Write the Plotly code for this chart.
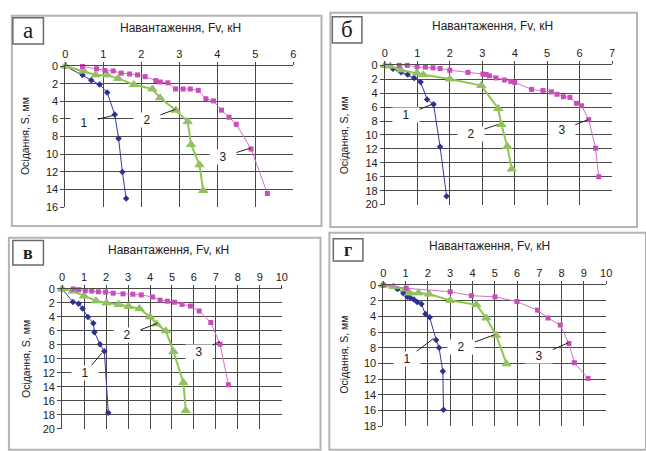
import plotly.graph_objects as go

W, H = 646, 451

# ---------------- data ----------------
# panel а
a_x1 = [0, 0.45, 0.68, 0.9, 1.1, 1.3, 1.4, 1.5, 1.6]
a_y1 = [0, 1.0, 1.6, 2.1, 3.0, 5.5, 8.2, 12.0, 15.0]
a_x2 = [0, 0.48, 0.8, 1.1, 1.39, 1.8, 2.29, 2.49, 2.91, 3.22, 3.31, 3.53, 3.63]
a_y2 = [0, 0.55, 1.0, 1.0, 1.4, 2.1, 2.6, 3.6, 5.0, 6.3, 8.9, 11.2, 14.1]
a_x3 = [0.45, 0.82, 1.04, 1.26, 1.47, 1.69, 1.9, 2.1, 2.38, 2.5, 2.7, 2.9, 3.1, 3.29, 3.5,
        3.7, 3.9, 4.11, 4.31, 4.5, 4.89, 5.32]
a_y3 = [0.05, 0.3, 0.5, 0.55, 0.8, 0.9, 1.0, 1.2, 1.65, 1.8, 1.9, 2.6, 2.6, 2.6, 2.75,
        3.7, 3.95, 5.0, 5.8, 6.6, 9.4, 14.45]

# panel б
b_x1 = [0, 0.25, 0.5, 0.7, 0.9, 1.1, 1.3, 1.5, 1.7, 1.9]
b_y1 = [0, 0.5, 1.0, 1.3, 1.8, 2.4, 4.9, 5.6, 11.7, 18.8]
b_x2 = [0, 0.16, 0.49, 0.99, 1.18, 2.0, 2.97, 3.49, 3.59, 3.77, 3.91]
b_y2 = [0, 0.1, 0.65, 1.1, 1.35, 1.95, 2.9, 6.2, 8.5, 11.65, 14.9]
b_x3 = [0.44, 0.69, 0.99, 1.25, 1.48, 1.7, 2.0, 2.56, 3.02, 3.12, 3.22, 3.42, 3.68, 3.88,
        4.0, 4.52, 4.87, 5.13, 5.3, 5.5, 5.7, 5.9, 6.06, 6.28, 6.49, 6.59]
b_y3 = [0, 0, 0.2, 0.25, 0.35, 0.45, 0.7, 1.0, 1.25, 1.3, 1.5, 1.8, 2.1, 2.3,
        2.45, 3.45, 3.6, 3.8, 4.15, 4.5, 4.6, 5.45, 5.8, 7.8, 11.9, 16.0]

# panel в
c_x1 = [0, 0.49, 0.75, 0.93, 1.17, 1.42, 1.47, 1.72, 1.92, 2.1]
c_y1 = [0, 1.86, 2.1, 2.8, 4.0, 4.9, 6.2, 7.9, 8.9, 17.7]
c_x2 = [0, 0.49, 1.0, 1.54, 2.02, 2.57, 3.02, 3.52, 4.0, 4.3, 4.72, 5.07, 5.52, 5.63]
c_y2 = [0, 0.3, 1.0, 1.7, 2.0, 2.2, 2.5, 2.8, 4.0, 5.0, 6.0, 8.95, 13.4, 17.4]
c_x3 = [0.5, 0.75, 1.05, 1.35, 1.65, 1.98, 2.32, 2.77, 3.22, 3.6, 4.12, 4.46, 4.79, 5.12,
        5.46, 5.84, 6.24, 6.77, 7.19, 7.57]
c_y3 = [0, 0.1, 0.25, 0.3, 0.4, 0.45, 0.6, 0.7, 0.75, 0.85, 1.15, 1.6, 1.75, 1.9,
        2.2, 2.45, 3.15, 4.8, 7.9, 13.7]

# panel г
d_x1 = [0, 0.63, 0.9, 1.08, 1.22, 1.37, 1.52, 1.71, 1.89, 2.08, 2.37, 2.5, 2.67, 2.7]
d_y1 = [0, 0.5, 1.03, 1.5, 1.65, 1.85, 2.15, 2.4, 3.7, 4.1, 7.0, 8.0, 11.0, 15.9]
d_x2 = [0, 0.46, 1.0, 1.17, 1.58, 2.05, 3.0, 4.17, 4.62, 5.06, 5.53]
d_y2 = [0, 0.2, 0.5, 1.0, 1.0, 1.15, 1.95, 2.5, 4.2, 6.4, 10.05]
d_x3 = [0, 1.03, 3.0, 3.95, 5.01, 6.0, 6.92, 7.39, 7.94, 8.33, 8.57, 9.19]
d_y3 = [0, 0.4, 0.85, 1.35, 1.5, 2.1, 3.2, 4.2, 5.1, 7.45, 9.9, 11.9]

panel_letters = ["а", "б", "в", "г"]
x_max = [6, 7, 10, 10]
y_max = [16, 20, 20, 18]
x_title = "Навантаження, Fv, кН"
y_title = "Осідання, S, мм"
curve_names = ["1", "2", "3"]

# label text position (x, y) and leader target (x, y) per panel
lab_text_x = [[0.5, 2.15, 4.15], [0.65, 2.65, 5.45], [1.05, 2.95, 6.25], [1.05, 3.5, 7.0]]
lab_text_y = [[6.4, 6.1, 10.3], [7.1, 9.8, 9.3], [12.0, 6.6, 9.0], [9.4, 7.9, 9.0]]
lab_tgt_x = [[1.26, 2.9, 4.87], [1.45, 3.48, 6.26], [1.8, 4.34, 7.19], [2.26, 4.99, 8.3]]
lab_tgt_y = [[5.6, 4.9, 9.3], [5.6, 8.5, 7.8], [9.2, 4.9, 7.5], [6.8, 6.33, 7.36]]

# ---------------- layout geometry (pixels) ----------------
plot_px = [(63.3, 294.3, 61.7, 206.7), (387.3, 617.7, 61, 204),
           (60, 282.7, 290.7, 434.3), (385.7, 611.7, 286.7, 431.7)]
frame_px = [(9, 323, 10, 226), (332, 643, 7, 227), (6, 322, 238, 456), (331, 652, 233, 456)]
letter_px = [(10, 41, 12, 39), (334, 364, 11, 38), (10, 41, 241, 266), (335, 365, 239, 262)]
xtitle_px = [(180, 23), (496.7, 21), (168, 251), (493, 246.7)]
ytitle_px = [(23, 134), (346.7, 133), (24, 363), (346, 358)]


def px(x):
    return x / W


def py(y):
    return 1 - y / H


series = [
    [(a_x1, a_y1), (a_x2, a_y2), (a_x3, a_y3)],
    [(b_x1, b_y1), (b_x2, b_y2), (b_x3, b_y3)],
    [(c_x1, c_y1), (c_x2, c_y2), (c_x3, c_y3)],
    [(d_x1, d_y1), (d_x2, d_y2), (d_x3, d_y3)],
]

styles = [
    dict(line=dict(color="#34399A", width=1),
         marker=dict(symbol="diamond", size=5, color="#2E3192")),
    dict(line=dict(color="#8DC850", width=2),
         marker=dict(symbol="triangle-up", size=8, color="#9AB878",
                     line=dict(color="#8DC850", width=1))),
    dict(line=dict(color="#D372C8", width=1),
         marker=dict(symbol="square", size=5, color="#C84DB8")),
]

fig = go.Figure()
FONT = "Liberation Sans, Arial, sans-serif"
GRID = "#4a4a4a"
TICKFONT = dict(family=FONT, size=11, color="#222")
annotations = []
shapes = []


def akey(prefix, n):
    return prefix if n == 1 else f"{prefix}{n}"


for i in range(4):
    n = i + 1          # main axes
    g = i + 5          # grid-only overlay axes
    xa, ya = akey("x", n), akey("y", n)
    xg, yg = akey("x", g), akey("y", g)
    for k, (xs, ys) in enumerate(series[i]):
        fig.add_trace(go.Scatter(x=xs, y=ys, mode="lines+markers", xaxis=xa, yaxis=ya,
                                 showlegend=False, cliponaxis=False, **styles[k]))
    # empty trace to register grid overlay subplot
    fig.add_trace(go.Scatter(x=[], y=[], xaxis=xg, yaxis=yg, showlegend=False,
                             hoverinfo="skip"))
    x0, x1, y0, y1 = plot_px[i]
    fig.layout[akey("xaxis", n)] = dict(
        domain=[px(x0), px(x1)], anchor=ya, side="top", range=[0, x_max[i]],
        tickmode="linear", tick0=0, dtick=1, showgrid=False,
        showline=True, linecolor=GRID, linewidth=1, ticks="outside", ticklen=3,
        tickcolor=GRID, zeroline=False, tickfont=TICKFONT, fixedrange=True)
    fig.layout[akey("yaxis", n)] = dict(
        domain=[py(y1), py(y0)], anchor=xa, range=[y_max[i], 0],
        tickmode="linear", tick0=0, dtick=2, showgrid=False,
        showline=True, linecolor=GRID, linewidth=1, ticks="outside", ticklen=4,
        tickcolor=GRID, zeroline=False, tickfont=TICKFONT, fixedrange=True)
    # overlay axes carrying only the interior gridlines (Excel style: none at the far edges)
    fig.layout[akey("xaxis", g)] = dict(
        overlaying=xa, anchor=yg, side="top", range=[0, x_max[i]],
        tickmode="array", tickvals=list(range(1, x_max[i])), showticklabels=False,
        ticks="", showgrid=True, gridcolor=GRID, gridwidth=1, showline=False,
        zeroline=False, fixedrange=True)
    fig.layout[akey("yaxis", g)] = dict(
        overlaying=ya, anchor=xg, range=[y_max[i], 0],
        tickmode="array", tickvals=list(range(2, y_max[i], 2)), showticklabels=False,
        ticks="", showgrid=True, gridcolor=GRID, gridwidth=1, showline=False,
        zeroline=False, fixedrange=True)

    # frames
    fx0, fx1, fy0, fy1 = frame_px[i]
    shapes.append(dict(type="rect", xref="paper", yref="paper", x0=px(fx0), x1=px(fx1),
                       y0=py(fy1), y1=py(fy0), line=dict(color="#b4b4b4", width=2),
                       layer="below"))
    lx0, lx1, ly0, ly1 = letter_px[i]
    shapes.append(dict(type="rect", xref="paper", yref="paper", x0=px(lx0), x1=px(lx1),
                       y0=py(ly1), y1=py(ly0), line=dict(color="#6a6a6a", width=1.5),
                       fillcolor="white"))
    bold = i >= 2
    annotations.append(dict(
        text=(f"<b>{panel_letters[i]}</b>" if bold else panel_letters[i]),
        xref="paper", yref="paper", x=px((lx0 + lx1) / 2), y=py((ly0 + ly1) / 2),
        showarrow=False, xanchor="center", yanchor="middle",
        font=dict(family="Liberation Serif, Times New Roman, serif",
                  size=18 if bold else 23, color="#222")))
    tx, ty = xtitle_px[i]
    annotations.append(dict(text=x_title, xref="paper", yref="paper", x=px(tx), y=py(ty),
                            showarrow=False, xanchor="center", yanchor="middle",
                            font=dict(family=FONT, size=12, color="#222")))
    tx, ty = ytitle_px[i]
    annotations.append(dict(text=y_title, xref="paper", yref="paper", x=px(tx), y=py(ty),
                            showarrow=False, xanchor="center", yanchor="middle",
                            textangle=-90, font=dict(family=FONT, size=10.5, color="#222")))
    # curve labels with leader lines
    for k in range(3):
        annotations.append(dict(
            text=curve_names[k], xref=xa, yref=ya, x=lab_tgt_x[i][k], y=lab_tgt_y[i][k],
            axref=xa, ayref=ya, ax=lab_text_x[i][k], ay=lab_text_y[i][k],
            showarrow=True, arrowhead=0, arrowwidth=1, arrowcolor="#222",
            bgcolor="white", width=26, height=14, borderpad=0,
            font=dict(family=FONT, size=12, color="#222")))

fig.update_layout(width=W, height=H, margin=dict(l=0, r=0, t=0, b=0),
                  paper_bgcolor="white", plot_bgcolor="white",
                  annotations=annotations, shapes=shapes)

fig.write_html("out.html")
